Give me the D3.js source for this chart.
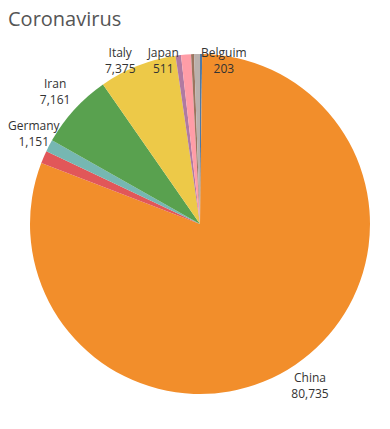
<!DOCTYPE html>
<html>
<head>
<meta charset="utf-8">
<script src="https://cdn.jsdelivr.net/npm/d3@7"></script>
<style>
  body { margin: 0; background: #fff; }
  text { font-family: "Open Sans", sans-serif; }
</style>
</head>
<body>
<script>
// cases per country, in the order the slices run clockwise from 12 o'clock
var countries = ["Belguim", "China", "France", "Germany", "Iran", "Italy", "Japan", "Spain", "Switzerland", "US"];
var cases = [203, 80735, 1209, 1151, 7161, 7375, 511, 950, 280, 560];
var colours = ["#4e79a7", "#f28e2b", "#e15759", "#76b7b2", "#59a14f", "#edc948", "#b07aa1", "#ff9da7", "#9c755f", "#bab0ac"];
// only these slices carry a label
var labelled = ["Belguim", "China", "Germany", "Iran", "Italy", "Japan"];

var width = 390, height = 429;
var cx = 200, cy = 224, radius = 170;

var svg = d3.select("body").append("svg")
    .attr("width", width)
    .attr("height", height);

svg.append("text")
    .attr("x", 8)
    .attr("y", 26)
    .attr("font-size", 20)
    .attr("fill", "#555")
    .text("Coronavirus");

var data = countries.map(function(c, i) { return {name: c, value: cases[i]}; });

var colour = d3.scaleOrdinal().domain(countries).range(colours);
var pie = d3.pie().sort(null).value(function(d) { return d.value; });
var arc = d3.arc().innerRadius(0).outerRadius(radius);
var arcs = pie(data);

var g = svg.append("g").attr("transform", "translate(" + cx + "," + cy + ")");

g.selectAll("path")
    .data(arcs)
    .join("path")
    .attr("d", arc)
    .attr("fill", function(d) { return colour(d.data.name); });

var fmt = d3.format(",");
var paneTop = 45.5 - cy, paneLeft = 8 - cx;

arcs.filter(function(d) { return labelled.indexOf(d.data.name) >= 0; }).forEach(function(d) {
  var a = (d.startAngle + d.endAngle) / 2;
  var ux = Math.sin(a), uy = -Math.cos(a);
  var lbl = g.append("g").attr("font-size", 12).attr("fill", "#333");
  var t1 = lbl.append("text").attr("text-anchor", "middle").attr("y", -4).text(d.data.name);
  var t2 = lbl.append("text").attr("text-anchor", "middle").attr("y", 12).text(fmt(d.data.value));
  var hw = Math.max(t1.node().getComputedTextLength(), t2.node().getComputedTextLength()) / 2;
  var x = ux * (radius + 26), y = uy * (radius + 26);
  // keep labels below the title; slide them along their ray instead
  if (y - 15 < paneTop) {
    y = paneTop + 15;
    var xr = y * ux / uy;
    x = ux < 0 ? xr - hw : xr + hw;
  }
  // and inside the left edge
  if (x - hw < paneLeft) x = paneLeft + hw;
  lbl.attr("transform", "translate(" + x + "," + y + ")");
});
</script>
</body>
</html>
